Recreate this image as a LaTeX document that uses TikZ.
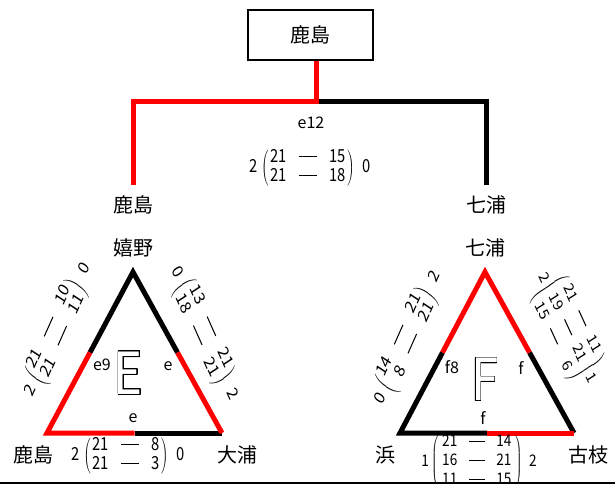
\documentclass[tikz,border=0pt]{standalone}
\usepackage{fontspec}
\setmainfont{Noto Sans CJK JP}
\usepackage[copies]{contour}
\contournumber{48}
\contourlength{0.7pt}
\usetikzlibrary{calc}
\newcommand{\dsh}{\raisebox{0.3em}{\rule{22pt}{1.2pt}}}
\newcommand{\dshs}{\raisebox{0.3em}{\rule{18pt}{1.2pt}}}
% 2-row matrix: #1 = row distance
\newcommand{\mtx}[2][19pt]{$\left(\vcenter{\hbox{\setlength\baselineskip{#1}\hspace{2pt}\begin{tabular}{@{}r@{\hspace{15pt}}c@{\hspace{15pt}}r@{}}#2\end{tabular}\hspace{2pt}}}\right)$}
% 3-row matrix: #1 = row distance, #2 = column gap
\newcommand{\mtxs}[3][19.5pt]{$\left(\vcenter{\hbox{\setlength\baselineskip{#1}\hspace{4pt}\begin{tabular}{@{}r@{\hspace{#2}}c@{\hspace{#2}}r@{}}#3\end{tabular}\hspace{4pt}}}\right)$}
\tikzset{
  win/.style={draw=red, line width=5pt, line join=miter},
  lose/.style={draw=black, line width=5pt, line join=miter},
  team/.style={font=\fontsize{20}{22}\selectfont, inner sep=0pt},
  lbl/.style={font=\fontsize{16}{18}\selectfont, inner sep=0pt},
  score/.style={font=\fontsize{18}{19}\selectfont, inner sep=0pt, xscale=0.82},
  scores/.style={font=\fontsize{16}{19}\selectfont, inner sep=0pt, xscale=0.85},
  bigletter/.style={font=\fontsize{58}{60}\selectfont, inner sep=0pt, xscale=0.85},
}
\begin{document}
\begin{tikzpicture}[x=1pt,y=-1pt]
\useasboundingbox (0,0) rectangle (615,485);
\fill[white] (0,0) rectangle (615,485);
% champion box
\node[draw, line width=2pt, minimum width=125pt, minimum height=50pt, team] (champ) at (310.5,35) {鹿島};
\node[team] (lteam) at (133,205) {鹿島};
\node[team] (rteam) at (486,205) {七浦};
\coordinate (j) at (316,101);
\coordinate (lend) at (133,185);
\coordinate (rend) at (486,185);
\draw[lose] (j) -| (rend);
\draw[win] (j |- champ.south) -- (j) -| (lend);
\node[lbl] (e12) at (311,123) {e12};
\node[score] (m12) at (310,168) {2\hspace{5pt}\mtx[15.5pt]{21&\dsh&15\\21&\dsh&18}\hspace{10pt}0};
% triangle E
\coordinate (EA) at (133,272);
\coordinate (EB) at (47,433);
\coordinate (EC) at (222,433);
\coordinate (EL) at ($(EA)!0.5!(EB)$);
\coordinate (ER) at ($(EA)!0.5!(EC)$);
\coordinate (EM) at ($(EB)!0.5!(EC)$);
\draw[lose] (EL) -- (EA) -- (ER);
\draw[lose] (EM) -- (EC);
\draw[win] (EL) -- (EB) -- (EM);
\draw[win] (ER) -- (EC);
\node[team] (ureshino) at (133,248) {嬉野};
\node[lbl] (e9) at (102,365) {e9};
\node[lbl] (eR) at (168,366) {e};
\node[lbl] (eB) at (133,418) {e};
\node[bigletter] (bigE) at (128.5,373.5) {\color{white}\contour{black}{E}};
\node[team] (kashimaB) at (33,455) {鹿島};
\node[team] (oura) at (237,455) {大浦};
\node[score] (mEB) at (128,456) {2\hspace{5pt}\mtx[20pt]{21&\dsh&8\\21&\dsh&3}\hspace{10pt}0};
\node[score, rotate=61.5] (mEL) at (58,330) {2\hspace{5pt}\mtx{21&\dsh&10\\21&\dsh&11}\hspace{10pt}0};
\node[score, rotate=-61.5] (mER) at (204,334) {0\hspace{5pt}\mtx{13&\dsh&21\\18&\dsh&21}\hspace{10pt}2};
% triangle F
\coordinate (FA) at (485,272);
\coordinate (FB) at (400,433);
\coordinate (FC) at (574,433);
\coordinate (FL) at ($(FA)!0.5!(FB)$);
\coordinate (FR) at ($(FA)!0.5!(FC)$);
\coordinate (FM) at ($(FB)!0.5!(FC)$);
\draw[lose] (FL) -- (FB) -- (FM);
\draw[lose] (FR) -- (FC);
\draw[win] (FL) -- (FA) -- (FR);
\draw[win] (FM) -- (FC);
\node[team] (shichiura) at (485,248) {七浦};
\node[lbl] (f8) at (452,367) {f8};
\node[lbl] (fR) at (521,368) {f};
\node[lbl] (fB) at (483,418) {f};
\node[bigletter] (bigF) at (485,380) {\color{white}\contour{black}{F}};
\node[team] (hama) at (385,455) {浜};
\node[team] (furue) at (588,455) {古枝};
\node[score, rotate=61.5] (mFL) at (408,338) {0\hspace{5pt}\mtx{14&\dsh&21\\8&\dsh&21}\hspace{10pt}2};
\node[scores, rotate=-61.5] (mFR) at (567,328) {2\hspace{2pt}\mtxs[17pt]{11pt}{21&\dshs&11\\19&\dshs&21\\15&\dshs&6}\hspace{2pt}1};
\begin{scope}
\clip (0,0) rectangle (615,481);
\node[scores] (mFB) at (479,462) {1\hspace{3pt}\mtxs{14pt}{21&\dshs&14\\16&\dshs&21\\11&\dshs&15}\hspace{8pt}2};
\end{scope}
\draw[line width=2.5pt] (0,483) -- (615,483);
\end{tikzpicture}
\end{document}
